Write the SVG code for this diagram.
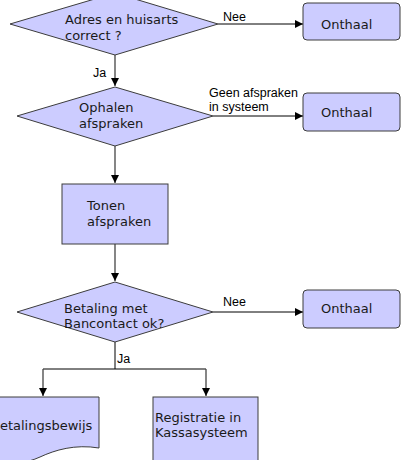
<svg xmlns="http://www.w3.org/2000/svg" width="401" height="460" viewBox="0 0 401 460">
<style>
.shape{fill:#ccccff;stroke:#3c3c3c;stroke-width:1}
.t{font-family:"DejaVu Sans",Verdana,sans-serif;font-size:13px;fill:#1a1a1a}
.lbl{font-family:"Liberation Sans",Arial,sans-serif;font-size:12.5px;fill:#000}
.c{fill:none;stroke:#000;stroke-width:1}
.cv{fill:none;stroke:#444;stroke-width:1.3}
</style>
<defs>
<marker id="arr" viewBox="0 0 10 10" refX="10" refY="5" markerWidth="8" markerHeight="8" markerUnits="userSpaceOnUse" orient="auto">
<path d="M0,0 L10,5 L0,10 Z" fill="#000"/>
</marker>
</defs>
<rect width="401" height="460" fill="#fff"/>
<g id="connectors">
<path class="c" d="M218,24 H303" marker-end="url(#arr)"/>
<path class="cv" d="M115,55 V86" marker-end="url(#arr)"/>
<path class="c" d="M213,116 H303" marker-end="url(#arr)"/>
<path class="cv" d="M115,146 V183" marker-end="url(#arr)"/>
<path class="cv" d="M115,244 V281" marker-end="url(#arr)"/>
<path class="c" d="M213,312 H303" marker-end="url(#arr)"/>
<path class="c" d="M115,342 V369"/>
<path class="c" d="M43,369 H206"/>
<path class="cv" d="M43,369 V396" marker-end="url(#arr)"/>
<path class="cv" d="M206,369 V396" marker-end="url(#arr)"/>
<text class="lbl" x="223" y="21">Nee</text>
<text class="lbl" x="93" y="77">Ja</text>
<text class="lbl" x="209" y="97">Geen afspraken</text>
<text class="lbl" x="209" y="111">in systeem</text>
<text class="lbl" x="223" y="306">Nee</text>
<text class="lbl" x="117" y="363">Ja</text>
</g>
<g id="d1">
<polygon class="shape" points="115,-7 218,24 115,55 10,24"/>
<text class="t" x="65" y="24">Adres en huisarts</text>
<text class="t" x="65" y="40">correct ?</text>
</g>
<g id="o1">
<rect class="shape" x="303" y="3" width="97" height="37" rx="4"/>
<text class="t" x="321" y="28.5">Onthaal</text>
</g>
<g id="d2">
<polygon class="shape" points="115,87 213,116 115,146 17,116"/>
<text class="t" x="79" y="112">Ophalen</text>
<text class="t" x="79" y="128">afspraken</text>
</g>
<g id="o2">
<rect class="shape" x="303" y="93" width="97" height="38" rx="4"/>
<text class="t" x="321" y="117">Onthaal</text>
</g>
<g id="tonen">
<rect class="shape" x="62" y="184" width="106" height="60"/>
<text class="t" x="87" y="210">Tonen</text>
<text class="t" x="87" y="226">afspraken</text>
</g>
<g id="d3">
<polygon class="shape" points="115,282 213,312 115,342 17,312"/>
<text class="t" x="64" y="313">Betaling met</text>
<text class="t" x="64" y="328">Bancontact ok?</text>
</g>
<g id="o3">
<rect class="shape" x="303" y="290" width="97" height="38" rx="4"/>
<text class="t" x="321" y="313">Onthaal</text>
</g>
<g id="bewijs">
<path class="shape" d="M-13,397 H99 V448 C75,444 55,450 40,457 C25,464 5,466 -13,464 Z"/>
<text class="t" x="-9" y="430">Betalingsbewijs</text>
</g>
<g id="kassa">
<rect class="shape" x="153" y="397" width="105" height="75"/>
<text class="t" x="155" y="422">Registratie in</text>
<text class="t" x="155" y="437">Kassasysteem</text>
</g>
</svg>
